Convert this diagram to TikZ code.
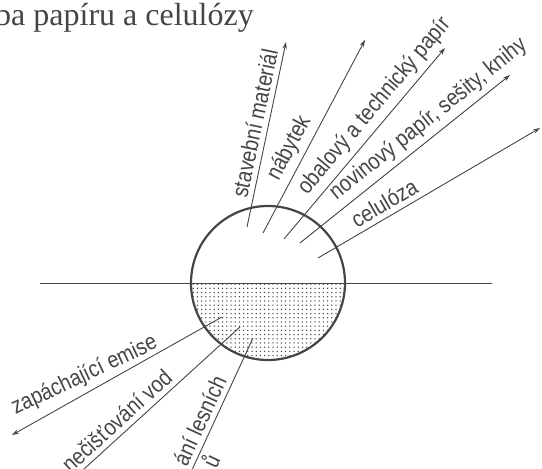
\documentclass[tikz,border=0pt]{standalone}
\usepackage{fontspec}
\setmainfont{Liberation Sans}[FakeStretch=0.86]
\newfontfamily\titlefont{Liberation Serif}
\usetikzlibrary{arrows.meta,patterns.meta}
\definecolor{ink}{HTML}{454545}
\begin{document}
\begin{tikzpicture}[x=1pt,y=1pt,
  conn/.style={draw=ink, line width=0.9pt, -{Stealth[length=7pt,width=4.5pt]}},
  lbl/.style={sloped, above=4pt, inner sep=1pt, font=\fontsize{23}{23}\selectfont, text=ink},
  lblb/.style={sloped, below=2pt, inner sep=1pt, font=\fontsize{23}{23}\selectfont, text=ink},
  rim/.style={circle, draw=ink, line width=2.2pt, minimum size=154pt, inner sep=0pt},
  axis/.style={draw=ink, line width=0.9pt},
]
\clip (0,0) rectangle (542,469);
% title
\node[anchor=base west, inner sep=0pt, font=\titlefont\fontsize{32}{34}\selectfont, text=ink] (title) at (-5,443) {ba papíru a celulózy};
% lower half dotted
\fill[pattern={Dots[distance=4.2pt, radius=0.75pt]}, pattern color=ink] (191,186) arc[start angle=180, end angle=360, radius=77] -- cycle;
% horizontal line
\coordinate (hl) at (40,186);
\coordinate (hr) at (492,186);
\draw[axis] (hl) -- (hr);
% coordinates
\coordinate (s1) at (247,242); \coordinate (t1) at (286,427);
\coordinate (s2) at (263,236); \coordinate (t2) at (365,429);
\coordinate (s3) at (284,230); \coordinate (t3) at (445,421);
\coordinate (s4) at (300,226); \coordinate (t4) at (510,394);
\coordinate (s5) at (318,211); \coordinate (t5) at (540,341);
\coordinate (sA) at (222,152); \coordinate (tA) at (12,34);
\coordinate (sB) at (240,142); \coordinate (tB) at (50,-31);
\coordinate (sC) at (253,131); \coordinate (tC) at (185,-16);
% arrows
\draw[conn] (s1) -- node[lbl, pos=0.545] (l1) {stavební materiál} (t1);
\draw[conn] (s2) -- node[lbl, pos=0.40] (l2) {nábytek} (t2);
\draw[conn] (s3) -- node[lbl, pos=0.64] (l3) {obalový a technický papír} (t3);
\draw[conn] (s4) -- node[lbl, pos=0.66] (l4) {novinový papír, sešity, knihy} (t4);
\draw[conn] (s5) -- node[lbl, pos=0.33] (l5) {celulóza} (t5);
\draw[conn] (sA) -- node[lbl, pos=0.62, rotate=-4] (lA) {zapáchající emise} (tA);
\draw[conn] (sB) -- node[lbl, pos=0.60] (lB) {nečišťování vod} (tB);
\draw[conn] (sC) -- node[lbl, pos=0.60] (lC) {ání lesních}
                    node[lblb, pos=0.80] (lC2) {ů} (tC);
% circle
\node[rim] (disk) at (268,186) {};
\end{tikzpicture}
\end{document}
